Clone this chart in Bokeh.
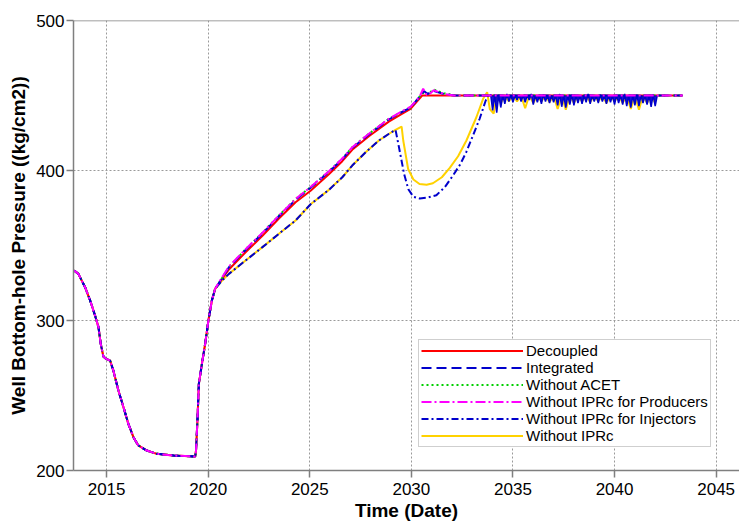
from bokeh.plotting import figure
from bokeh.models import Range1d, Legend, LegendItem, Span, FixedTicker
from bokeh.embed import file_html
from bokeh.resources import INLINE

# ---------------- data ----------------
# shared start of every series (years, kg/cm2)
t_common = [2013.40, 2013.61, 2013.94, 2014.19, 2014.43, 2014.60, 2014.71, 2014.84, 2014.98,
            2015.17, 2015.33, 2015.58, 2015.83, 2016.07, 2016.32, 2016.56, 2016.98, 2017.47,
            2018.29, 2019.36, 2019.40, 2019.47, 2019.54, 2019.69, 2019.85, 2020.01, 2020.18, 2020.34]
p_common = [333.3, 331.1, 322.2, 313.3, 303.3, 295.6, 284.4, 276.0, 274.4,
            273.3, 266.7, 253.3, 242.2, 231.1, 222.2, 216.7, 213.3, 211.1,
            210.0, 209.3, 213.3, 233.3, 257.8, 271.1, 284.4, 300.0, 313.3, 321.1]

# Decoupled
t_dec = [2020.67, 2021.02, 2021.84, 2022.67, 2023.48, 2024.30, 2025.04, 2025.94, 2026.60,
         2027.09, 2027.91, 2028.89, 2029.47, 2029.96, 2030.53, 2043.35]
p_dec = [327.5, 334.0, 345.5, 356.5, 368.0, 378.8, 386.5, 397.5, 406.2,
         413.8, 422.8, 432.6, 437.3, 441.1, 450.0, 450.0]

# Integrated
t_int = [2020.67, 2021.02, 2021.84, 2022.67, 2023.48, 2024.30, 2025.04, 2025.94, 2026.60,
         2027.09, 2027.91, 2028.89, 2029.47, 2029.96, 2030.45, 2030.62, 2030.80, 2031.10,
         2031.60, 2032.10, 2043.35]
p_int = [328.0, 335.5, 347.0, 358.0, 369.5, 380.5, 388.5, 399.0, 407.5,
         415.0, 424.0, 434.0, 438.5, 442.0, 450.0, 453.0, 451.0, 453.0,
         451.0, 450.0, 450.0]

# Without ACET
t_acet = [2020.67, 2021.02, 2021.84, 2022.67, 2023.48, 2024.30, 2025.04, 2025.94, 2026.60,
          2027.09, 2027.91, 2028.89, 2029.47, 2029.96, 2030.45, 2030.65, 2030.80, 2031.10,
          2031.60, 2032.20, 2043.35]
p_acet = [328.0, 335.5, 347.5, 358.5, 370.0, 381.0, 389.0, 399.5, 408.0,
          415.5, 424.5, 434.5, 438.5, 442.0, 450.0, 452.5, 451.0, 454.0,
          451.5, 450.0, 450.0]

# Without IPRc for Producers
t_prod = [2020.67, 2021.02, 2021.84, 2022.67, 2023.48, 2024.30, 2025.04, 2025.94, 2026.60,
          2027.09, 2027.91, 2028.89, 2029.47, 2029.96, 2030.40, 2030.58, 2030.75, 2030.90,
          2031.10, 2031.60, 2032.10, 2043.35]
p_prod = [328.5, 336.0, 347.5, 358.5, 370.0, 381.0, 389.0, 399.5, 408.0,
          415.5, 424.5, 434.5, 439.0, 442.5, 449.0, 454.5, 450.5, 451.0,
          453.5, 451.0, 450.0, 450.0]

# shared part of the two lower series
t_low = [2020.67, 2021.02, 2021.84, 2022.67, 2023.48, 2024.30, 2025.04, 2025.94, 2026.60,
         2027.09, 2027.75, 2028.40, 2028.90, 2029.22]
p_low = [326.5, 331.1, 340.0, 348.9, 357.8, 366.7, 377.5, 387.1, 395.5,
         403.3, 412.2, 420.0, 424.5, 427.1]

# Without IPRc for Injectors
t_inj = [2029.39, 2029.64, 2029.85, 2030.10, 2030.41, 2030.80, 2031.23, 2031.65, 2032.05,
         2032.40, 2032.70, 2033.03, 2033.36, 2033.66, 2033.82, 2033.90]
p_inj = [415.5, 397.8, 387.5, 382.5, 381.3, 382.0, 383.5, 389.0, 396.7,
         404.0, 412.2, 423.3, 434.5, 446.7, 451.0, 450.0]
inj_osc_t = [2033.9,
             2034.0, 2034.1, 2034.2, 2034.3, 2034.4, 2034.5, 2034.6, 2034.7, 2034.8, 2034.9,
             2035.0, 2035.1, 2035.2, 2035.3, 2035.4, 2035.5, 2035.6, 2035.7, 2035.8, 2035.9,
             2036.0, 2036.1, 2036.2, 2036.3, 2036.4, 2036.5, 2036.6, 2036.7, 2036.8, 2036.9,
             2037.0, 2037.1, 2037.2, 2037.3, 2037.4, 2037.5, 2037.6, 2037.7, 2037.8, 2037.9,
             2038.0, 2038.1, 2038.2, 2038.3, 2038.4, 2038.5, 2038.6, 2038.7, 2038.8, 2038.9,
             2039.0, 2039.1, 2039.2, 2039.3, 2039.4, 2039.5, 2039.6, 2039.7, 2039.8, 2039.9,
             2040.0, 2040.1, 2040.2, 2040.3, 2040.4, 2040.5, 2040.6, 2040.7, 2040.8, 2040.9,
             2041.0, 2041.1, 2041.2, 2041.3, 2041.4, 2041.5, 2041.6, 2041.7, 2041.8, 2041.9,
             2042.0, 2042.1]
inj_osc_p = [451.0,
             440.0, 450.0, 438.5, 450.5, 442.0, 450.0, 444.5, 451.0, 446.0, 450.0,
             445.5, 450.0, 447.0, 450.5, 446.0, 450.0, 445.5, 450.0, 447.0, 451.0,
             444.0, 450.0, 445.5, 450.0, 444.5, 450.5, 446.0, 450.0, 445.0, 450.0,
             445.5, 450.0, 443.5, 451.0, 442.5, 450.0, 442.0, 450.0, 444.0, 450.5,
             443.5, 450.0, 445.0, 450.0, 444.5, 450.0, 445.5, 451.0, 444.5, 450.0,
             446.0, 450.0, 445.0, 450.5, 446.0, 450.0, 444.5, 450.0, 445.5, 450.0,
             444.0, 450.5, 445.0, 450.0, 444.0, 451.0, 443.0, 450.0, 442.0, 450.0,
             443.5, 450.5, 443.0, 450.0, 445.0, 450.0, 444.0, 450.0, 442.5, 450.5,
             443.0, 450.0]
band_top = 450.0

# Without IPRc
t_ipr = [2029.52, 2029.60, 2029.84, 2030.10, 2030.40, 2030.75, 2031.06, 2031.50, 2031.89,
         2032.30, 2032.71, 2033.20, 2033.53, 2033.73, 2033.86, 2034.05, 2034.20]
p_ipr = [429.3, 420.0, 401.0, 394.0, 391.0, 390.5, 391.5, 395.5, 401.8,
         409.5, 420.0, 435.5, 447.8, 452.2, 441.0, 438.0, 450.0]
ipr_osc_t = [2034.2, 2034.4, 2034.6, 2034.8, 2035.0, 2035.2, 2035.4, 2035.6, 2035.8, 2036.0,
             2036.2, 2036.4, 2036.6, 2036.8, 2037.0, 2037.2, 2037.4, 2037.6, 2037.8, 2038.0,
             2038.2, 2038.4, 2038.6, 2038.8, 2039.0, 2039.2, 2039.4, 2039.6, 2039.8, 2040.0,
             2040.2, 2040.4, 2040.6, 2040.8, 2041.0, 2041.2, 2041.4, 2041.6, 2041.8, 2042.0]
ipr_osc_p = [450.0, 445.0, 450.0, 446.0, 450.0, 446.0, 450.0, 441.5, 450.0, 445.0,
             450.0, 446.0, 450.0, 445.5, 450.0, 441.0, 450.0, 440.5, 450.0, 445.0,
             450.0, 446.0, 450.0, 445.5, 450.0, 446.0, 450.0, 445.0, 450.0, 446.0,
             450.0, 445.0, 450.0, 441.0, 450.0, 440.5, 450.0, 445.0, 450.0, 445.0]

x_ticks = [2015, 2020, 2025, 2030, 2035, 2040, 2045]
y_ticks = [200, 300, 400, 500]

# ---------------- figure ----------------
FONT = "Liberation Sans"
RED, BLUE, GREEN, MAGENTA, YELLOW = "#FF0000", "#0000CC", "#00D000", "#FF00FF", "#FFD200"
AX = "#7f7f7f"

p = figure(frame_width=666, frame_height=450, output_backend="svg", toolbar_location=None,
           x_range=Range1d(2013.37, 2046.15), y_range=Range1d(200, 500),
           min_border_left=73, min_border_right=0, min_border_top=20, min_border_bottom=56,
           background_fill_color="white", border_fill_color="white")
p.outline_line_color = None

for ax in (p.xaxis, p.yaxis):
    ax.axis_line_color = AX
    ax.axis_line_width = 1.5
    ax.major_tick_line_color = AX
    ax.major_tick_line_width = 1.5
    ax.major_tick_out = 7
    ax.major_tick_in = 0
    ax.minor_tick_line_color = None
    ax.major_label_text_font = FONT
    ax.major_label_text_font_size = "17px"
    ax.major_label_text_color = "black"
    ax.axis_label_text_font = FONT
    ax.axis_label_text_font_style = "bold"
    ax.axis_label_text_font_size = "19px"
    ax.axis_label_text_color = "black"

p.xaxis.ticker = FixedTicker(ticks=x_ticks)
p.yaxis.ticker = FixedTicker(ticks=y_ticks)
p.xaxis.axis_label = "Time (Date)"
p.yaxis.axis_label = "Well Bottom-hole Pressure ((kg/cm2))"
p.xaxis.major_label_standoff = 5
p.xaxis.axis_label_standoff = 2
p.yaxis.major_label_standoff = 2
p.yaxis.axis_label_standoff = 4

for g in (p.xgrid, p.ygrid):
    g.grid_line_color = "#9a9a9a"
    g.grid_line_dash = "2 2"
    g.grid_line_width = 1

p.add_layout(Span(location=500, dimension="width", line_color=AX, line_width=1.5))

# ---------------- series ----------------
r_ipr = p.line(t_common + t_low + t_ipr, p_common + p_low + p_ipr, line_color=YELLOW, line_width=2)
p.line(ipr_osc_t, ipr_osc_p, line_color=YELLOW, line_width=2)
r_dec = p.line(t_common + t_dec, p_common + p_dec, line_color=RED, line_width=2)
r_acet = p.line(t_common + t_acet, p_common + p_acet, line_color=GREEN, line_width=2,
                line_dash="2 3")
r_int = p.line(t_common + t_int, p_common + p_int, line_color=BLUE, line_width=2,
               line_dash="10 5")
# dense oscillation of the injector case: the zigzag plus the space it sweeps
p.varea(x=inj_osc_t, y1=inj_osc_p, y2=band_top, fill_color=BLUE, fill_alpha=0.9)
p.line(inj_osc_t, inj_osc_p, line_color=BLUE, line_width=1.5)
r_inj = p.line(t_common + t_low + t_inj, p_common + p_low + p_inj, line_color=BLUE,
               line_width=2, line_dash="7 3 2 3")
r_prod = p.line(t_common + t_prod, p_common + p_prod, line_color=MAGENTA, line_width=2,
                line_dash="10 3 2 3")

legend = Legend(items=[
    LegendItem(label="Decoupled", renderers=[r_dec]),
    LegendItem(label="Integrated", renderers=[r_int]),
    LegendItem(label="Without ACET", renderers=[r_acet]),
    LegendItem(label="Without IPRc for Producers", renderers=[r_prod]),
    LegendItem(label="Without IPRc for Injectors", renderers=[r_inj]),
    LegendItem(label="Without IPRc", renderers=[r_ipr]),
], location=(345, 23))
legend.glyph_width = 102
legend.glyph_height = 17
legend.label_height = 17
legend.label_standoff = 3
legend.padding = 2
legend.spacing = -1
legend.margin = 0
legend.border_line_color = "#a0a0a0"
legend.border_line_width = 1
legend.background_fill_color = "white"
legend.background_fill_alpha = 1
legend.label_text_font = FONT
legend.label_text_font_size = "15px"
legend.label_text_color = "black"
p.add_layout(legend)

open("out.html", "w").write(file_html(p, INLINE))
